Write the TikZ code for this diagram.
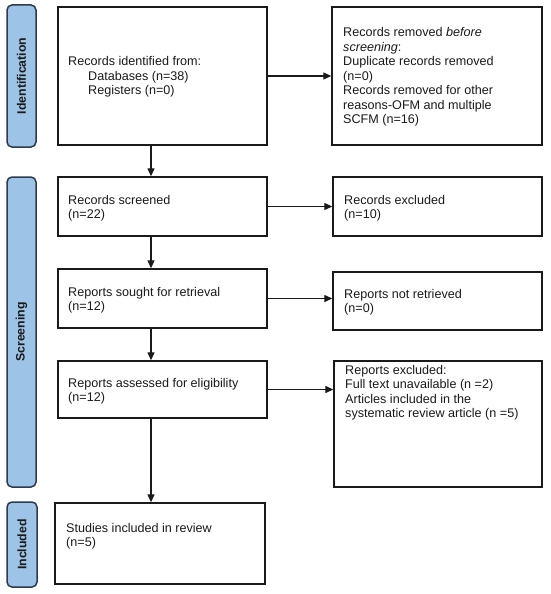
\documentclass[tikz,border=0pt]{standalone}
\usepackage{fontspec}
\setmainfont{Liberation Sans}
\usetikzlibrary{arrows.meta}
\definecolor{phasefill}{HTML}{9DC3E6}
\definecolor{phaseline}{HTML}{2E3B4E}
\definecolor{txt}{HTML}{1A1A1A}
\begin{document}
\begin{tikzpicture}[x=1pt,y=-1pt,
  box/.style={draw=txt,line width=1.4pt,rectangle,inner sep=0pt},
  phase/.style={draw=phaseline,fill=phasefill,line width=1.5pt,rounded corners=5pt,inner sep=0pt},
  phasetext/.style={rotate=90,font=\fontsize{12.3}{14}\selectfont\bfseries,text=txt},
  lbl/.style={align=left,inner sep=0pt,font=\fontsize{12.6}{14.5}\selectfont,text=txt},
  arr/.style={draw=txt,line width=1.3pt,-{Triangle[length=8pt,width=7pt]}}]
\useasboundingbox (0,0) rectangle (550,594);
% phase labels
\node[phase,minimum width=29pt,minimum height=142pt] (pid) at (21.5,76) {};
\node[phasetext] at (pid.center) {Identification};
\node[phase,minimum width=29pt,minimum height=310pt] (psc) at (21.5,332) {};
\node[phasetext] at (psc.center) {Screening};
\node[phase,minimum width=30pt,minimum height=85pt] (pin) at (22,544.5) {};
\node[phasetext] at (pin.center) {Included};
% left boxes
\node[box,minimum width=209pt,minimum height=138pt] (b1) at (162.5,76) {};
\node[lbl,anchor=west] (t1) at (68,77) {Records identified from:\\\hspace{20pt}Databases (n=38)\\\hspace{20pt}Registers (n=0)};
\node[box,minimum width=209pt,minimum height=59pt] (b2) at (162.5,206.5) {};
\node[lbl,anchor=west] (t2) at (68,208) {Records screened\\(n=22)};
\node[box,minimum width=209pt,minimum height=59pt] (b3) at (162.5,298.5) {};
\node[lbl,anchor=west] (t3) at (68,300) {Reports sought for retrieval\\(n=12)};
\node[box,minimum width=209pt,minimum height=57pt] (b4) at (162.5,389.5) {};
\node[lbl,anchor=west] (t4) at (68,391) {Reports assessed for eligibility\\(n=12)};
\node[box,minimum width=210pt,minimum height=81pt] (b5) at (160,543.5) {};
\node[lbl,anchor=north west] (t5) at (66,523) {Studies included in review\\(n=5)};
% right boxes
\node[box,minimum width=210pt,minimum height=138pt] (r1) at (437,76) {};
\node[lbl,anchor=west] (s1) at (343,77) {Records removed \textit{before}\\\textit{screening}:\\Duplicate records removed\\(n=0)\\Records removed for other\\reasons-OFM and multiple\\SCFM (n=16)};
\node[box,minimum width=209pt,minimum height=59pt] (r2) at (437.5,206.5) {};
\node[lbl,anchor=west] (s2) at (344,208) {Records excluded\\(n=10)};
\node[box,minimum width=209pt,minimum height=58pt] (r3) at (437.5,301) {};
\node[lbl,anchor=west] (s3) at (344,302) {Reports not retrieved\\(n=0)};
\node[box,minimum width=208pt,minimum height=126pt] (r4) at (438,424) {};
\node[lbl,anchor=north west] (s4) at (345,365) {Reports excluded:\\Full text unavailable (n =2)\\Articles included in the\\systematic review article (n =5)};
% connectors
\coordinate (ax) at (151,0);
\draw[arr] (b1.south -| ax) -- (b2.north -| ax);
\draw[arr] (b2.south -| ax) -- (b3.north -| ax);
\draw[arr] (b3.south -| ax) -- (b4.north -| ax);
\draw[arr] (b4.south -| ax) -- (b5.north -| ax);
\draw[arr] (b1.east) -- (b1.east -| r1.west);
\draw[arr] (b2.east) -- (b2.east -| r2.west);
\draw[arr] (b3.east) -- (b3.east -| r3.west);
\draw[arr] (b4.east) -- (b4.east -| r4.west);
\end{tikzpicture}
\end{document}
